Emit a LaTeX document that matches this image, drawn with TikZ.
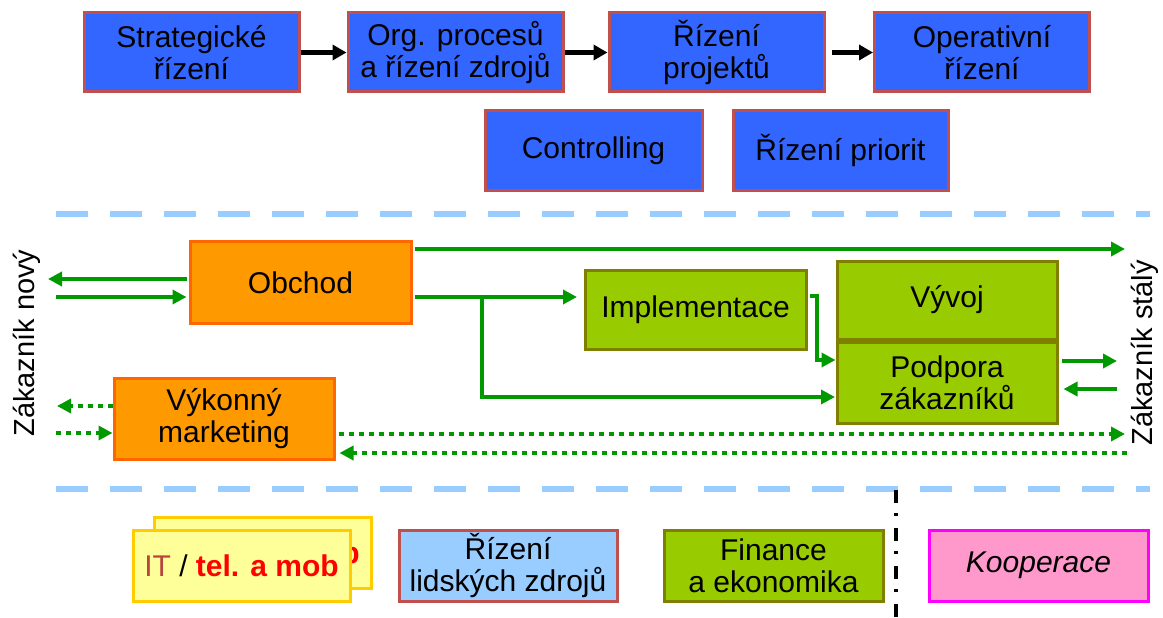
\documentclass[tikz,border=0pt]{standalone}
\usepackage{fontspec}
\setmainfont{Liberation Sans}
\usetikzlibrary{arrows.meta}
\definecolor{boxblue}{HTML}{3366FF}
\definecolor{redborder}{HTML}{C0504D}
\definecolor{orfill}{HTML}{FF9900}
\definecolor{orborder}{HTML}{FF6600}
\definecolor{grfill}{HTML}{99CC00}
\definecolor{grborder}{HTML}{808000}
\definecolor{arrgreen}{HTML}{009900}
\definecolor{lightblue}{HTML}{99CCFF}
\definecolor{yelfill}{HTML}{FFFF99}
\definecolor{yelborder}{HTML}{FFCC00}
\definecolor{pinkfill}{HTML}{FF99CC}
\definecolor{pinkborder}{HTML}{FF00FF}
\definecolor{itred}{HTML}{B8453F}
\tikzset{
  basebox/.style={draw, line width=3pt, inner sep=0pt, align=center,
    font=\fontsize{30}{32}\selectfont},
  bluebox/.style={basebox, fill=boxblue, draw=redborder, minimum width=215pt, minimum height=79pt},
  orbox/.style={basebox, fill=orfill, draw=orborder, minimum width=220pt, minimum height=81pt},
  grbox/.style={basebox, fill=grfill, draw=grborder, minimum width=220pt, minimum height=79pt},
  lbbox/.style={basebox, fill=lightblue, draw=redborder, minimum width=217pt, minimum height=71pt},
  yelbox/.style={basebox, fill=yelfill, draw=yelborder, minimum width=217pt, minimum height=71pt},
  pinkbox/.style={basebox, fill=pinkfill, draw=pinkborder, minimum width=217pt, minimum height=71pt},
  blackarr/.style={line width=5pt, black, -{Triangle[length=14pt,width=15pt]}},
  grarr/.style={line width=4.5pt, arrgreen, -{Triangle[length=14pt,width=14pt]}},
  dotarr/.style={line width=4.5pt, arrgreen, dash pattern=on 5pt off 5pt, -{Triangle[length=14pt,width=14pt]}},
  sepline/.style={line width=6pt, lightblue, dash pattern=on 32pt off 22pt},
  sidetext/.style={rotate=90, font=\fontsize{29}{32}\selectfont, inner sep=0pt},
}
\begin{document}
\begin{tikzpicture}[x=1pt,y=-1pt]
\useasboundingbox (0,0) rectangle (1163,618);
% top row
\node[bluebox] (strat) at (191.5,52.5) {Strategické\\řízení};
\node[bluebox] (org) at (455.5,52.5) {Org. procesů\\a řízení zdrojů};
\node[bluebox] (proj) at (716.5,52.5) {Řízení\\projektů};
\node[bluebox] (oper) at (982,52.5) {Operativní\\řízení};
\node[bluebox, minimum width=217pt] (ctrl) at (593.5,150.5) {Controlling};
\node[bluebox] (prior) at (840.5,150.5) {Řízení priorit};
\draw[blackarr] (strat.east) -- (org.west);
\draw[blackarr] (org.east) -- (proj.west);
\draw[blackarr] ([xshift=6pt]proj.east) -- (oper.west);
% separators
\coordinate (sepAL) at (56,214); \coordinate (sepAR) at (1150,214);
\coordinate (sepBL) at (56,489); \coordinate (sepBR) at (1150,489);
\draw[sepline] (sepAL) -- (sepAR);
\draw[sepline] (sepBL) -- (sepBR);
% middle
\node[orbox, minimum width=221pt, minimum height=82pt] (obchod) at (300.5,282.5) {Obchod};
\node[orbox] (vyk) at (224,418.5) {Výkonný\\marketing};
\node[grbox, minimum width=221pt] (impl) at (695.5,309.5) {Implementace};
\node[grbox, minimum height=78pt] (vyvoj) at (947,300) {Vývoj};
\node[grbox, minimum height=81pt] (podpora) at (947,383) {Podpora\\zákazníků};
\node[sidetext] (novy) at (27,343) {Zákazník nový};
\node[sidetext] (staly) at (1145,353) {Zákazník stálý};
% coordinates
\coordinate (topEnd) at (1125,249);
\coordinate (novyOut) at (48,279);
\coordinate (novyIn) at (56,297);
\coordinate (implIn) at (577,297);
\coordinate (branch) at (482,297);
\coordinate (branchDown) at (482,397);
\coordinate (podIn) at (835,397);
\coordinate (implOut) at (817,296);
\coordinate (implDown) at (817,360);
\coordinate (stalyOut) at (1117,361);
\coordinate (stalyIn) at (1117,389);
\coordinate (vykOut) at (57,406);
\coordinate (vykIn) at (56,433);
\coordinate (dotEnd) at (1125,434);
\coordinate (dotStart) at (1127,453);
% arrows
\draw[grarr] ([xshift=2pt]obchod.north east |- topEnd) -- (topEnd);
\draw[grarr] ([xshift=-2pt]obchod.west |- novyOut) -- (novyOut);
\draw[grarr] (novyIn) -- ([xshift=-2pt]obchod.west |- novyIn);
\draw[grarr] ([xshift=2pt]obchod.east |- implIn) -- (implIn);
\draw[grarr] (branch) -- (branchDown) -- (podIn);
\draw[grarr] ([xshift=2pt]impl.east |- implOut) -- (implOut) -- (implDown) -- (podpora.west |- implDown);
\draw[grarr] ([xshift=3pt]podpora.east |- stalyOut) -- (stalyOut);
\draw[grarr] (stalyIn) -- ([xshift=5pt]podpora.east |- stalyIn);
\draw[dotarr] (vyk.west |- vykOut) -- (vykOut);
\draw[dotarr] (vykIn) -- (vyk.west |- vykIn);
\draw[dotarr] ([xshift=3pt]vyk.east |- dotEnd) -- (dotEnd);
\draw[dotarr] (dotStart) -- ([xshift=4pt]vyk.east |- dotStart);
% bottom
\node[yelbox] (itback) at (262.5,552.5) {{\color{itred}IT} / {\bfseries\color{red}tel. a mob}};
\node[yelbox] (it) at (241.5,565.5) {{\color{itred}IT} / {\bfseries\color{red}tel. a mob}};
\node[lbbox, minimum width=218pt] (lidske) at (508,565.5) {Řízení\\lidských zdrojů};
\node[grbox, minimum width=219pt, minimum height=71pt] (fin) at (773.5,565.5) {Finance\\a ekonomika};
\node[pinkbox, minimum width=219pt] (koop) at (1038.5,565.5) {\itshape Kooperace};
\coordinate (ddTop) at (896,490);
\coordinate (ddBot) at (896,618);
\draw[line width=3.5pt, black, dash pattern=on 13pt off 10pt on 3pt off 12pt] (ddTop) -- (ddBot);
\end{tikzpicture}
\end{document}
